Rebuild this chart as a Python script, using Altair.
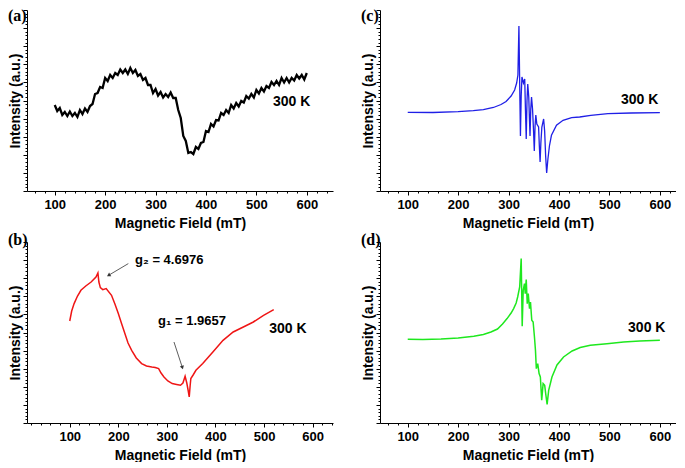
import altair as alt
import pandas as pd

FONT = "Liberation Sans"
SERIF = "Liberation Serif"

# ---------------- data ----------------
# Panel (a): magnetic field (mT) and intensity (a.u.)
field_a = [100, 105, 110, 115, 120, 125, 130, 135, 140, 145,
           150, 155, 160, 165, 170, 175, 180, 185, 190, 195,
           200, 205, 210, 215, 220, 225, 230, 235, 240, 245,
           250, 255, 260, 265, 270, 275, 280, 285, 290, 295,
           300, 305, 310, 315, 320, 325, 330, 335, 340, 345,
           350, 355, 360, 365, 370, 375, 380, 385, 390, 395,
           400, 405, 410, 415, 420, 425, 430, 435, 440, 445,
           450, 455, 460, 465, 470, 475, 480, 485, 490, 495,
           500, 505, 510, 515, 520, 525, 530, 535, 540, 545,
           550, 555, 560, 565, 570, 575, 580, 585, 590, 595,
           600]
int_a = [86, 80, 83, 76, 79, 75, 79.5, 75, 78, 74,
         81, 77, 82.5, 79, 85, 87, 97, 98, 104, 103,
         113, 110, 116, 113, 118, 116, 121.5, 118, 121.5, 117,
         123, 118, 121, 115, 117, 111, 113, 106, 106, 98,
         102, 95.5, 99, 93.5, 97, 94, 98.5, 93, 93, 81,
         73, 55, 50, 38, 39, 37, 44, 42, 48, 49,
         60, 59, 67, 64.5, 71, 70.5, 78, 76, 81, 78,
         86, 82.5, 88, 84.5, 90, 88.5, 95, 92.5, 97, 93.5,
         101, 97.5, 103, 99.5, 105, 103, 109, 106, 110, 106,
         113, 108.5, 113, 108.5, 113, 110.5, 116, 112.5, 116, 111.5,
         118]

# Panel (b)
field_b = [100, 104, 109, 116, 123, 133, 144, 154, 158, 160,
           163, 168, 175, 186, 193, 200, 207, 213.5, 220, 227.5,
           237, 248, 258, 269, 276, 283, 288, 294, 302, 311,
           320, 328, 333, 337.5, 341, 344, 346, 348, 349.3, 354,
           359.8, 373.8, 394.7, 415.6, 436.5, 457.4, 478, 499, 520]
int_b = [102, 112, 119.4, 127, 132.7, 137, 141, 146, 150, 141,
         135.4, 133.4, 134.4, 127.7, 119, 109.4, 99, 89.4, 80, 72.7,
         65, 59.4, 57, 56, 55.5, 54.4, 50, 46, 42, 39.4,
         38.5, 37.7, 40, 46.7, 40, 32, 26, 38, 44.4, 48,
         52.7, 59.4, 71, 82.7, 91, 96, 101, 107.7, 113.4]

# Panel (c)
field_c = [100, 150, 200, 230, 250, 270, 285, 295, 305, 312,
           316, 318.5, 320.5, 322.5, 323.5, 325, 326.5, 329.5, 332, 333.5,
           335, 336.5, 338, 340, 341.5, 342.5, 344, 345.5, 347.5, 349.5,
           351, 352.5, 354, 356, 359.5, 361, 362.5, 364, 366, 369.5,
           371.5, 373.5, 375.5, 378, 381, 385, 395, 408, 425, 441,
           463, 497, 543, 600]
int_c = [78.7, 78.5, 79.3, 80.3, 81.3, 83.5, 86.5, 89.5, 95, 101,
         108, 116, 165, 90, 55, 95, 114, 108, 112, 80,
         52, 90, 107, 94, 70, 55, 82, 94, 82, 60,
         40, 65, 76, 67, 64, 45, 29, 48, 64, 72,
         60, 35, 18, 32, 45, 55.7, 65.7, 70.7, 73.4, 74,
         75.7, 77.3, 78, 78.3]

# Panel (d)
field_d = [100, 130, 166, 200, 231, 250, 265, 278, 288, 297,
           305, 310, 315, 318, 322, 325, 327, 329, 331.5, 333,
           335, 337, 339, 341.5, 343.4, 346, 348.7, 351.3, 353.3, 355,
           357.8, 360.5, 363, 365.7, 368.5, 371.6, 373.6, 376.4, 379.5, 386,
           396, 409, 426, 442, 462, 495, 528, 560, 600]
int_d = [83.7, 83.5, 84, 85, 86.7, 88.5, 91, 94, 99, 104.4,
         110, 114.4, 120, 126, 136, 164.4, 96.7, 132.7, 139.4, 129.4,
         143.4, 119.4, 129.4, 114.4, 121, 102.7, 101, 86, 72.7, 54.4,
         59.4, 49.4, 46, 22.7, 39.4, 37.7, 29.4, 18.7, 32.7, 46,
         58, 66, 72, 75.5, 77.7, 79.3, 81, 82, 82.7]

panel_labels = ["(a)", "(b)", "(c)", "(d)"]
panel_colors = ["#000000", "#ef1515", "#1f1fe6", "#1ee81e"]
temp_label = "300 K"
temp_x = [570, 549, 560, 574]
temp_y = [89, 94.4, 91.4, 95.4]

g_labels = ["g\u2082 = 4.6976", "g\u2081 = 1.9657"]
g_label_x = [234.5, 281.8]
g_label_y = [162.7, 102]
arrow_x1 = [220.6, 314.6]
arrow_y1 = [159.4, 81]
arrow_x2 = [180, 331.9]
arrow_y2 = [147.7, 55.4]
arrow_angle = [239, 162]

x_label = "Magnetic Field (mT)"
y_label = "Intensity (a.u.)"

dom_a = [45, 652]
dom_b = [12, 642]
dom_cd = [45, 632]
ticks_a = list(range(60, 641, 20))
ticks_b = list(range(20, 641, 20))
ticks_cd = list(range(60, 631, 20))
y_dom = [0, 181]
y_ticks = [round(i * 3.62, 2) for i in range(51)]

W_LEFT, W_RIGHT, H = 306, 296, 181


def x_axis(ticks):
    return alt.Axis(
        values=ticks,
        labelExpr="datum.value % 100 === 0 ? datum.label : ''",
        format="d",
        tickSize={"condition": {"test": "datum.value % 100 === 0", "value": 4}, "value": 2},
        grid=False, labelFlush=False, labelOverlap=False,
        labelFont=FONT, labelFontWeight="bold", labelFontSize=13, labelColor="black",
        labelPadding=3,
        titleFont=FONT, titleFontWeight="bold", titleFontSize=14, titleColor="black",
        titlePadding=5,
        domainColor="black", tickColor="black",
    )


y_axis = alt.Axis(
    values=y_ticks, labels=False,
    tickSize={"condition": {"test": "round(datum.value / 3.62) % 5 === 0", "value": 4}, "value": 2},
    grid=False,
    titleFont=FONT, titleFontWeight="bold", titleFontSize=14, titleColor="black",
    titlePadding=0,
    domainColor="black", tickColor="black",
)


def panel(field, inten, idx, xdom, ticks, width, label_y, sw, extra=False):
    xenc = alt.X("B:Q", title=x_label,
                 scale=alt.Scale(domain=xdom, nice=False, zero=False),
                 axis=x_axis(ticks))
    yenc = alt.Y("I:Q", title=y_label,
                 scale=alt.Scale(domain=y_dom, nice=False, zero=False),
                 axis=y_axis)
    df = pd.DataFrame({"B": field, "I": inten})
    line = alt.Chart(df).mark_line(color=panel_colors[idx], strokeWidth=sw).encode(x=xenc, y=yenc)
    tdf = pd.DataFrame({"B": [temp_x[idx]], "I": [temp_y[idx]], "t": [temp_label]})
    temp = alt.Chart(tdf).mark_text(font=FONT, fontWeight="bold", fontSize=14,
                                    color="black", align="center", baseline="middle"
                                    ).encode(x=xenc, y=yenc, text="t:N")
    ldf = pd.DataFrame({"t": [panel_labels[idx]]})
    lab = alt.Chart(ldf).mark_text(font=SERIF, fontWeight="bold", fontSize=16,
                                   color="black", align="left", baseline="middle"
                                   ).encode(x=alt.value(-19), y=alt.value(label_y), text="t:N")
    layers = [line, temp, lab]
    if extra:
        gdf = pd.DataFrame({"B": g_label_x, "I": g_label_y, "t": g_labels})
        gtxt = alt.Chart(gdf).mark_text(font=FONT, fontWeight="bold", fontSize=13,
                                        color="black", align="left", baseline="middle"
                                        ).encode(x=xenc, y=yenc, text="t:N")
        adf = pd.DataFrame({"B": arrow_x1, "I": arrow_y1, "B2": arrow_x2, "I2": arrow_y2})
        arr = alt.Chart(adf).mark_rule(color="#333333", strokeWidth=0.8).encode(
            x=xenc, y=yenc, x2="B2:Q", y2="I2:Q")
        hdf = pd.DataFrame({"B": arrow_x2, "I": arrow_y2, "a": arrow_angle})
        heads = alt.Chart(hdf).mark_point(shape="triangle-up", filled=True, size=18,
                                          color="#333333", opacity=1).encode(
            x=xenc, y=yenc, angle=alt.Angle("a:Q", scale=None))
        layers += [gtxt, arr, heads]
    return alt.layer(*layers).properties(width=width, height=H)


pa = panel(field_a, int_a, 0, dom_a, ticks_a, W_LEFT, 6, 2.3)
pb = panel(field_b, int_b, 1, dom_b, ticks_b, W_LEFT, -2, 1.5, extra=True)
pc = panel(field_c, int_c, 2, dom_cd, ticks_cd, W_RIGHT, 6, 1.3)
pd_ = panel(field_d, int_d, 3, dom_cd, ticks_cd, W_RIGHT, -2, 1.5)

chart = alt.concat(pa, pc, pb, pd_, columns=2,
                   spacing={"row": 51, "column": 47}, bounds="flush"
                   ).properties(padding=0).configure_view(stroke=None)

chart.save("out.html", embed_options={"renderer": "svg", "actions": False})
